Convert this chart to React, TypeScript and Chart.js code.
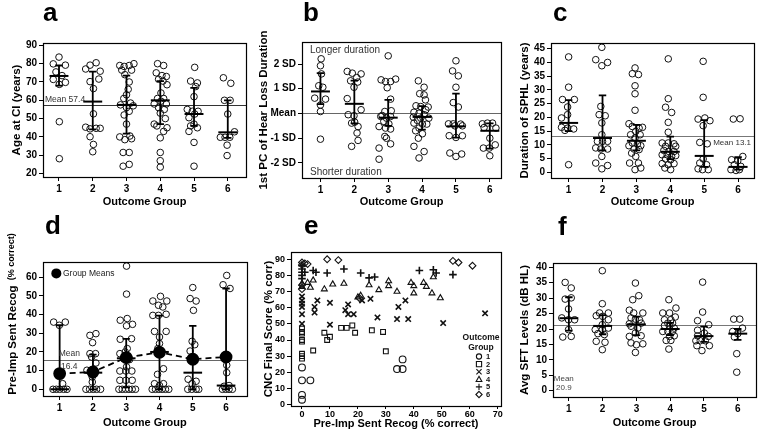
import React, { useEffect, useRef } from "react";
import { Chart, registerables } from "chart.js";
Chart.register(...registerables);

const FONT = "'Liberation Sans', Arial, Helvetica, sans-serif";

// ================= DATA =================
const outcomeGroups = [1, 2, 3, 4, 5, 6];

// (a) Age at CI (years) — [jittered x, value] per outcome group
const ageAtCI = [
  [[1.0, 83.6], [0.83, 79.9], [1.19, 79.2], [0.91, 75.5], [1.09, 73.5], [0.83, 71.4], [1.19, 69.8], [1.01, 68.7], [1.01, 48.3], [1.01, 28.1]],
  [[1.79, 77.1], [1.92, 79.2], [2.1, 80.5], [2.22, 75.9], [1.92, 70.2], [2.18, 71.6], [2.02, 66.4], [2.02, 52.6], [1.79, 45.3], [1.92, 44.4], [2.1, 44.7], [2.22, 44.7], [1.92, 40.1], [2.02, 35.9], [2.0, 31.9]],
  [[2.8, 79], [2.93, 78.5], [3.08, 79], [3.22, 80], [2.86, 76.5], [3.15, 76.5], [2.95, 74], [3.08, 70], [3.05, 66], [3.0, 63], [2.92, 61], [3.12, 58.5], [2.82, 57.5], [3.2, 57], [3.0, 56], [3.08, 54], [2.93, 52], [3.0, 47], [2.8, 40], [3.1, 40.5], [2.95, 38.5], [3.15, 39], [2.9, 31.5], [3.08, 31.5], [2.9, 24], [3.08, 25]],
  [[3.92, 80], [4.1, 79], [3.88, 75], [4.05, 73.5], [4.18, 73], [3.95, 71.5], [4.08, 70.5], [4.2, 68.5], [4.02, 64], [3.92, 61], [4.1, 61], [4.02, 59.5], [3.82, 58], [4.18, 58], [3.95, 56], [4.12, 55], [4.0, 53], [4.15, 50], [3.9, 46], [3.82, 47], [4.2, 45], [4.1, 43], [4.0, 39.5], [4.0, 31.5], [4.0, 27], [4.0, 23.5]],
  [[5.02, 78], [4.9, 70.5], [5.1, 69.5], [5.05, 67.5], [5.0, 62], [4.8, 55], [4.95, 54], [5.12, 54], [5.02, 52.5], [4.85, 50.5], [5.0, 47], [4.9, 46], [5.1, 45], [4.85, 43], [5.0, 37], [5.0, 24]],
  [[5.87, 72.3], [6.09, 69.3], [5.9, 60], [6.07, 60], [6.0, 52.5], [6.2, 42.8], [5.78, 39.8], [5.92, 39.8], [6.06, 39.8], [5.98, 35.5], [5.98, 29.8]],
];
const ageMedians = [73.3, 59.3, 57.5, 60, 52.5, 42.5];
const ageLow = [68, 44.1, 41.8, 47, 46, 39.5];
const ageHigh = [79, 75.7, 73.5, 70.5, 66.8, 60];
const ageOverallMean = 57.4;
const ageTicks = [20, 30, 40, 50, 60, 70, 80, 90];

// (b) 1st PC of hearing loss duration (SD units)
const hearLossPC = [
  [[1.02, 2.21], [1.0, 1.93], [1.03, 1.6], [0.95, 1.12], [1.07, 1.06], [0.83, 0.62], [1.15, 0.58], [1.0, 0.34], [1.0, 0.08], [1.0, -1.04]],
  [[1.79, 1.7], [1.94, 1.63], [2.2, 1.6], [2.07, 1.45], [1.89, 1.32], [2.1, 1.27], [1.99, 1.06], [1.79, 0.6], [2.2, 0.15], [1.82, -0.05], [1.99, -0.09], [2.01, -0.35], [1.92, -0.39], [2.11, -0.53], [2.08, -0.79], [2.11, -1.09], [1.92, -1.33]],
  [[3.0, 2.33], [2.79, 1.36], [2.92, 1.29], [3.07, 1.29], [3.22, 1.39], [2.97, 1.04], [3.07, 0.58], [2.9, 0.08], [3.09, 0.11], [2.82, -0.08], [2.78, -0.12], [2.95, -0.19], [3.07, -0.12], [2.87, -0.32], [3.02, -0.42], [2.73, -0.53], [2.92, -0.59], [3.07, -0.63], [2.9, -0.93], [2.95, -1.0], [3.07, -1.23], [2.73, -1.4], [2.73, -1.85]],
  [[3.89, 1.32], [4.06, 1.06], [3.93, 0.8], [4.06, 0.75], [4.1, 0.55], [3.82, 0.31], [3.96, 0.28], [4.18, 0.26], [4.11, 0.15], [3.76, 0.05], [3.91, 0.01], [4.06, -0.05], [3.74, -0.15], [3.96, -0.19], [4.2, -0.19], [3.86, -0.28], [3.76, -0.39], [4.01, -0.43], [4.14, -0.43], [3.91, -0.59], [3.81, -0.7], [4.01, -0.82], [3.89, -1.0], [3.76, -1.33], [4.06, -1.54], [3.91, -1.8]],
  [[5.0, 2.13], [4.9, 1.72], [5.07, 1.52], [5.0, 1.06], [4.92, 0.44], [5.07, 0.26], [4.78, -0.42], [4.92, -0.42], [5.14, -0.43], [4.97, -0.5], [5.19, -0.5], [4.8, -0.9], [5.0, -0.97], [5.19, -0.9], [4.82, -1.6], [5.0, -1.74], [5.17, -1.64]],
  [[5.78, -0.42], [5.93, -0.39], [6.08, -0.39], [5.83, -0.57], [6.18, -0.59], [6.0, -1.0], [6.16, -1.27], [5.81, -1.4], [5.98, -1.4], [6.0, -1.71]],
];
const pcMedians = [0.89, 0.39, -0.17, -0.14, -0.52, -0.7];
const pcLow = [0.38, -0.4, -0.5, -0.65, -0.98, -1.42];
const pcHigh = [1.63, 1.33, 0.55, 0.3, 0.8, -0.4];
const pcOverallMean = 0;
const pcTicks = [-2, -1, 0, 1, 2];
const pcTickLabels = ["-2 SD", "-1 SD", "Mean", "1 SD", "2 SD"];

// (c) Duration of SPHL (years)
const sphlDuration = [
  [[1.0, 42], [1.0, 31], [0.82, 26.5], [1.17, 26.5], [0.97, 23.8], [0.79, 19.8], [0.97, 21], [0.79, 16.4], [0.97, 16.1], [1.15, 15.8], [0.89, 15.3], [1.0, 2.8]],
  [[1.98, 45.5], [1.8, 41], [2.15, 40], [1.98, 38.8], [1.95, 24], [1.9, 21], [2.08, 20.6], [1.98, 18], [1.98, 13.7], [1.85, 11.3], [2.0, 11.3], [2.15, 11.3], [1.8, 8.9], [1.95, 8.5], [2.15, 8.5], [1.98, 5.8], [1.8, 3.4], [2.15, 2.5], [1.98, 1.3]],
  [[2.96, 38], [2.88, 35.9], [3.06, 35.6], [2.96, 31.5], [2.96, 28.6], [2.96, 22.6], [2.78, 17.7], [2.88, 16.7], [3.08, 16.1], [3.18, 16.4], [2.98, 14.9], [2.83, 13.7], [3.11, 13.7], [2.96, 12.5], [2.88, 10.7], [3.03, 10.3], [2.78, 9.7], [3.13, 9.7], [2.93, 8.5], [3.08, 8.3], [2.86, 7], [2.98, 5.8], [2.8, 3.4], [3.06, 3.4], [2.96, 1], [3.13, 1.6]],
  [[3.94, 41.3], [3.94, 26.8], [3.86, 23.7], [4.04, 21.8], [3.94, 18.2], [3.94, 14.6], [3.76, 10.7], [3.94, 10.7], [4.11, 10.4], [3.86, 9.5], [4.16, 9.5], [3.81, 8], [3.96, 7.6], [4.11, 7.6], [3.76, 6.4], [3.91, 6.4], [4.04, 5.8], [4.16, 6.1], [3.86, 4.9], [4.01, 4.6], [3.76, 3.2], [3.94, 2.8], [4.11, 3.2], [3.84, 1.6], [4.01, 1]],
  [[4.97, 40.4], [4.97, 27.3], [4.82, 19.4], [5.02, 19.8], [5.17, 18.8], [4.97, 17], [4.87, 10.9], [5.09, 10.4], [4.97, 4.9], [4.87, 3.4], [5.07, 2.8], [4.82, 1.3], [4.95, 1], [5.12, 1]],
  [[5.86, 19.4], [6.06, 19.5], [6.14, 5.8], [5.81, 4.6], [5.99, 4.2], [5.89, 2.8], [6.08, 2.2], [5.79, 1], [5.94, 0.7], [6.04, 1]],
];
const sphlMedians = [18, 12.5, 11.5, 7.5, 6, 2];
const sphlLow = [15, 8, 8, 4.8, 2, 1];
const sphlHigh = [26.3, 28, 17.3, 13, 19, 5.5];
const sphlOverallMean = 13.1;
const sphlTicks = [0, 5, 10, 15, 20, 25, 30, 35, 40, 45];

// (d) Pre-implant sentence recognition (% correct)
const preImpRecog = [
  [[0.82, 36], [1.17, 36], [0.99, 34.3], [1.09, 3], [0.8, 0], [0.9, 0], [1.0, 0], [1.12, 0], [1.22, 0]],
  [[1.91, 28.9], [2.09, 29.8], [1.99, 25], [1.91, 19.1], [2.08, 19.1], [1.96, 17.3], [2.09, 14.1], [1.82, 10.2], [2.01, 10.2], [1.98, 6.6], [1.98, 3.9], [1.79, 0], [1.9, 0], [2.01, 0], [2.11, 0], [2.23, 0]],
  [[3.01, 66], [3.01, 51], [2.82, 37], [3.03, 37.9], [3.01, 34], [3.19, 34.8], [2.82, 26.8], [3.16, 27.1], [3.03, 21.8], [2.81, 19.1], [2.97, 20], [2.92, 16.4], [3.1, 15.9], [3.01, 12], [2.81, 9.8], [2.99, 9.8], [3.17, 9.8], [2.81, 4.8], [2.99, 4.8], [3.18, 4.8], [2.78, 0], [2.88, 0], [2.98, 0], [3.08, 0], [3.18, 0], [3.28, 0]],
  [[3.8, 47.3], [4.03, 49.8], [4.22, 47.3], [3.97, 45], [4.1, 44.1], [3.8, 39.6], [3.97, 39.6], [4.2, 40.2], [3.85, 31], [4.2, 31], [4.0, 28], [4.0, 24.5], [3.95, 21.8], [4.12, 11], [3.94, 8], [3.85, 3], [4.12, 3], [4.0, 2], [3.78, 0], [3.88, 0], [3.98, 0], [4.08, 0], [4.18, 0], [4.28, 0]],
  [[5.0, 54.5], [4.92, 48.6], [5.1, 47.3], [5.02, 42.3], [4.98, 25.7], [5.06, 23.9], [4.92, 20.5], [4.86, 5.4], [5.1, 4.3], [4.98, 3], [4.85, 0], [4.97, 0], [5.1, 0], [5.18, 0]],
  [[6.02, 61], [5.91, 56], [6.12, 54], [6.02, 12.9], [6.02, 8.9], [6.09, 2], [5.94, 1.6], [5.89, 0], [5.99, 0], [6.09, 0], [6.19, 0]],
];
const recogMedians = [0, 8.9, 16.6, 20, 8.9, 2];
const recogLow = [0, 0, 1, 0, 0, 0];
const recogHigh = [34.3, 18.6, 27, 39.5, 34, 54];
const recogGroupMeans = [8.4, 9.3, 17, 19.8, 16.1, 17.3];
const recogOverallMean = 15.5;
const recogTicks = [0, 10, 20, 30, 40, 50, 60];

// (e) CNC final score vs pre-implant sentence recognition — [x, y] per outcome group
const cncGroup1 = [[0, 3], [0, 6], [0, 15], [3, 15], [0, 23], [34, 22], [36, 22], [36, 28]];
const cncGroup2 = [[0, 47], [0, 45], [0, 44], [0, 40], [0, 39], [0, 31.5], [0, 30], [0, 28.5], [4, 33.5], [8, 44.5], [9, 40], [10, 42], [14, 47.5], [16, 47.5], [18, 49], [19, 44.5], [25, 46], [29, 45], [30, 33]];
const cncGroup3 = [[0, 67], [0, 64.5], [0, 62.5], [0, 60.5], [0, 56], [0, 50], [5.5, 64.5], [4.5, 60.5], [4.5, 57], [10, 63], [10, 49.5], [16.5, 62], [15.5, 58.5], [16.5, 56], [18.5, 56], [21.5, 64.5], [24.5, 65.5], [27, 54], [34, 53], [34.5, 60.5], [37, 64.5], [38, 53], [50.5, 50.5], [65.5, 56.5]];
const cncGroup4 = [[0, 75], [0, 73], [2, 75.5], [3, 72.5], [4, 77], [8, 71.5], [11, 74.5], [15, 75], [20, 66.5], [21, 67.5], [24, 74], [27.5, 71], [31, 76.5], [31, 73.5], [34, 70], [39, 75.5], [40, 73.5], [40, 69], [43.5, 75.5], [44.5, 73], [46.5, 69], [47, 79], [49.5, 66]];
const cncGroup5 = [[0, 86], [0, 84], [0, 82], [0, 80], [0, 78], [1, 82], [4, 83], [5, 82], [9, 81.5], [15, 84], [21, 81.5], [24, 78.5], [26, 79], [42, 83], [47, 83.5], [48, 81.5], [54, 80.5]];
const cncGroup6 = [[0, 88], [0, 86.5], [1, 87.5], [2, 87], [9, 90], [13, 89.5], [54, 89], [56, 88], [61, 86], [20.5, 66], [0, 74], [0, 71.5]];
const cncGroupLabels = ["1", "2", "3", "4", "5", "6"];
const cncMarkers = ["circle", "rect", "crossRot", "triangle", "cross", "rectRot"];
const cncXTicks = [0, 10, 20, 30, 40, 50, 60, 70];
const cncYTicks = [0, 10, 20, 30, 40, 50, 60, 70, 80, 90];

// (f) Average SFT levels (dB HL)
const sftLevels = [
  [[0.89, 35.1], [1.07, 33.3], [0.89, 29.7], [1.07, 30.1], [0.99, 26.5], [0.79, 23.6], [0.99, 23], [1.17, 23], [0.99, 19.8], [0.82, 17.4], [1.07, 17.6]],
  [[1.99, 38.9], [1.99, 28.2], [1.81, 24.3], [1.91, 25.2], [2.17, 25.2], [2.0, 24.1], [2.17, 23], [1.99, 21.4], [1.78, 19.8], [1.99, 19.8], [2.17, 20.3], [1.86, 18.5], [2.05, 18.2], [1.81, 16], [2.07, 15.7], [1.99, 13.3]],
  [[2.97, 34.9], [3.07, 30.8], [2.89, 29.5], [2.79, 26.1], [2.92, 25.2], [3.19, 25.2], [2.84, 23.6], [2.97, 23.2], [3.09, 23], [2.79, 21.7], [3.14, 21.9], [2.84, 20.9], [3.04, 20.3], [2.97, 18.7], [2.79, 17.6], [3.14, 17.8], [2.84, 15.5], [3.0, 14.9], [3.19, 15.2], [2.97, 12.4]],
  [[3.96, 29.5], [4.17, 26.8], [3.78, 25.2], [3.98, 25.2], [3.83, 23], [4.02, 23], [4.15, 23.9], [3.93, 21.9], [4.07, 21.9], [3.83, 21.1], [3.98, 20.9], [4.12, 20.3], [3.78, 19.2], [3.93, 19.2], [4.07, 19.2], [3.98, 17.6], [4.12, 17.8], [3.88, 16.3], [4.02, 16.3], [3.96, 13.5]],
  [[4.96, 35.2], [4.96, 25.5], [4.81, 22.7], [5.14, 21.4], [4.81, 19.6], [5.01, 18.7], [5.13, 17.6], [4.81, 17.8], [4.76, 16.2], [4.89, 16.2], [5.04, 16.2], [5.16, 14.6], [4.79, 14.6], [4.94, 13]],
  [[5.88, 23.2], [6.06, 23.2], [6.14, 20.3], [5.85, 19.2], [6.0, 18.5], [5.9, 17.4], [5.97, 12], [5.97, 6]],
];
const sftMedians = [23.5, 21, 21.5, 20, 17.7, 18.5];
const sftLow = [19.5, 18.3, 18, 18, 15.8, 16.5];
const sftHigh = [30.3, 24.5, 24, 22, 20.8, 20];
const sftOverallMean = 21.4;
const sftTicks = [0, 5, 10, 15, 20, 25, 30, 35, 40];

// ================= HELPERS =================
const BLACK = "#000";

function drawText(ctx: any, text: string, x: number, y: number, opts: any) {
  ctx.save();
  ctx.font = `${opts.bold ? "bold " : ""}${opts.size || 9}px ${FONT}`;
  ctx.fillStyle = opts.color || "#333";
  ctx.textAlign = opts.align || "left";
  ctx.textBaseline = opts.baseline || "middle";
  ctx.fillText(text, x, y);
  ctx.restore();
}

function overlayPlugin(p: any) {
  return {
    id: "overlay" + p.letter,
    beforeDatasetsDraw(chart: any) {
      if (p.mean === undefined) return;
      const { ctx, chartArea: a, scales } = chart;
      const yy = Math.round(scales.y.getPixelForValue(p.mean)) + 0.5;
      ctx.save();
      ctx.strokeStyle = p.meanColor || "#555";
      ctx.lineWidth = 1;
      ctx.beginPath();
      ctx.moveTo(a.left, yy);
      ctx.lineTo(a.right, yy);
      ctx.stroke();
      ctx.restore();
    },
    afterDatasetsDraw(chart: any) {
      const { ctx, chartArea: a, scales } = chart;
      const xs = scales.x, ys = scales.y;
      if (p.medians) {
        const unit = xs.getPixelForValue(2) - xs.getPixelForValue(1);
        const capW = unit * 0.11, medW = unit * 0.28;
        ctx.save();
        ctx.strokeStyle = BLACK;
        ctx.lineCap = "butt";
        outcomeGroups.forEach((g, i) => {
          const cx = xs.getPixelForValue(g);
          const yl = ys.getPixelForValue(p.low[i]);
          const yh = ys.getPixelForValue(p.high[i]);
          const ym = ys.getPixelForValue(p.medians[i]);
          ctx.lineWidth = 1.8;
          ctx.beginPath();
          ctx.moveTo(cx, yl); ctx.lineTo(cx, yh);
          ctx.moveTo(cx - capW, yl); ctx.lineTo(cx + capW, yl);
          ctx.moveTo(cx - capW, yh); ctx.lineTo(cx + capW, yh);
          ctx.stroke();
          ctx.lineWidth = 2;
          ctx.beginPath();
          ctx.moveTo(cx - medW, ym); ctx.lineTo(cx + medW, ym);
          ctx.stroke();
        });
        ctx.restore();
      }
      (p.notes || []).forEach((n: any) => {
        const px = xs.getPixelForValue(n.x) + (n.dx || 0);
        const py = ys.getPixelForValue(n.y) + (n.dy || 0);
        drawText(ctx, n.text, px, py, n);
      });
      if (p.extraDraw) p.extraDraw(chart);
      ctx.save();
      ctx.strokeStyle = BLACK;
      ctx.lineWidth = 1.2;
      ctx.strokeRect(Math.round(a.left) + 0.5, Math.round(a.top) + 0.5, Math.round(a.right - a.left), Math.round(a.bottom - a.top));
      ctx.restore();
    },
    afterDraw(chart: any) {
      const { ctx } = chart;
      drawText(ctx, p.letter, p.letterPos[0], p.letterPos[1], { size: 26, bold: true, color: BLACK, baseline: "alphabetic" });
      if (p.customYTitle) p.customYTitle(chart);
    },
  };
}

function buildScales(p: any) {
  const tickFont = { family: FONT, size: p.tickSize || 10, weight: "bold" };
  const xTitleFont = { family: FONT, size: p.xTitleSize || 11, weight: "bold" };
  const yTitleFont = { family: FONT, size: 11.5, weight: "bold" };
  const grid = (len: number) => ({ drawOnChartArea: false, drawTicks: true, tickLength: len, color: BLACK, lineWidth: 1 });
  const border = { display: true, color: BLACK, width: 1 };
  return {
    x: {
      type: "linear",
      min: p.xRange[0],
      max: p.xRange[1],
      grid: grid(p.xTickLen || 4),
      border,
      afterBuildTicks: (s: any) => { s.ticks = p.xTicks.map((v: number) => ({ value: v })); },
      afterFit: (s: any) => { s.height = p.xh; },
      ticks: { font: tickFont, color: BLACK, padding: p.xTickPad ?? 2, maxRotation: 0, autoSkip: false, callback: (v: any) => String(v) },
      title: { display: true, text: p.xTitle, font: xTitleFont, color: BLACK, padding: { top: 0, bottom: p.xTitlePad } },
    },
    y: {
      type: "linear",
      min: p.yRange[0],
      max: p.yRange[1],
      grid: grid(4),
      border,
      afterBuildTicks: (s: any) => { s.ticks = p.yTicks.map((v: number) => ({ value: v })); },
      afterFit: (s: any) => { s.width = p.yw; },
      ticks: {
        font: tickFont, color: BLACK, padding: 2, autoSkip: false,
        callback: (v: any) => (p.yTickLabels ? p.yTickLabels[p.yTicks.indexOf(v)] : String(v)),
      },
      title: { display: !p.customYTitle, text: p.yTitle, font: yTitleFont, color: BLACK, padding: { top: p.yTitlePad, bottom: 0 } },
    },
  };
}

function baseOptions(p: any) {
  return {
    animation: false,
    responsive: false,
    devicePixelRatio: 1,
    layout: { padding: { top: p.pad[0], right: p.pad[1], bottom: p.pad[2], left: 0 } },
    plugins: { legend: { display: false }, tooltip: { enabled: false } },
    scales: buildScales(p),
  };
}

function makeGroupChart(canvas: HTMLCanvasElement, p: any) {
  const pts = p.points.flatMap((g: number[][]) => g.map(([x, y]) => ({ x, y })));
  const datasets: any[] = [];
  if (p.groupMeans) {
    datasets.push({
      data: p.groupMeans.map((m: number, i: number) => ({ x: outcomeGroups[i], y: m })),
      showLine: true,
      borderColor: BLACK,
      borderWidth: 1.8,
      borderDash: [6, 4],
      pointRadius: 5.5,
      pointBackgroundColor: BLACK,
      pointBorderColor: BLACK,
    });
  }
  datasets.push({
    data: pts,
    showLine: false,
    pointStyle: "circle",
    pointRadius: 3.3,
    pointBorderWidth: 1,
    pointBorderColor: "#111",
    pointBackgroundColor: "rgba(255,255,255,0)",
  });
  return new Chart(canvas, {
    type: "scatter",
    data: { datasets },
    options: baseOptions(p),
    plugins: [overlayPlugin(p)],
  } as any);
}

function drawMarker(ctx: any, style: string, x: number, y: number, r: number) {
  ctx.beginPath();
  switch (style) {
    case "circle":
      ctx.arc(x, y, r, 0, Math.PI * 2);
      break;
    case "rect":
      ctx.rect(x - r, y - r, 2 * r, 2 * r);
      break;
    case "crossRot":
      ctx.moveTo(x - r, y - r); ctx.lineTo(x + r, y + r);
      ctx.moveTo(x + r, y - r); ctx.lineTo(x - r, y + r);
      break;
    case "triangle":
      ctx.moveTo(x, y - r * 1.15); ctx.lineTo(x + r * 1.1, y + r * 0.85); ctx.lineTo(x - r * 1.1, y + r * 0.85); ctx.closePath();
      break;
    case "cross":
      ctx.moveTo(x - r * 1.2, y); ctx.lineTo(x + r * 1.2, y);
      ctx.moveTo(x, y - r * 1.2); ctx.lineTo(x, y + r * 1.2);
      break;
    case "rectRot":
      ctx.moveTo(x, y - r * 1.2); ctx.lineTo(x + r * 1.2, y); ctx.lineTo(x, y + r * 1.2); ctx.lineTo(x - r * 1.2, y); ctx.closePath();
      break;
  }
  ctx.stroke();
}

function makeCncChart(canvas: HTMLCanvasElement, p: any) {
  const groups = [cncGroup1, cncGroup2, cncGroup3, cncGroup4, cncGroup5, cncGroup6];
  const datasets = groups.map((g, i) => ({
    data: g.map(([x, y]) => ({ x, y })),
    showLine: false,
    pointStyle: cncMarkers[i],
    pointRadius: i === 2 || i === 4 ? 3.8 : 3.4,
    pointBorderWidth: i === 2 || i === 4 ? 1.6 : 1.1,
    pointBorderColor: "#111",
    pointBackgroundColor: "rgba(255,255,255,0)",
  }));
  const legendDraw = (chart: any) => {
    const { ctx } = chart;
    const cx = p.legendPos[0], top = p.legendPos[1];
    drawText(ctx, "Outcome", cx, top, { size: 8.5, bold: true, color: "#111", align: "center" });
    drawText(ctx, "Group", cx, top + 10, { size: 8.5, bold: true, color: "#111", align: "center" });
    cncGroupLabels.forEach((lab, i) => {
      const yy = top + 18.5 + i * 7.6;
      ctx.save();
      ctx.strokeStyle = "#111";
      ctx.lineWidth = 1.1;
      drawMarker(ctx, cncMarkers[i], cx - 2, yy, 2.6);
      ctx.restore();
      drawText(ctx, lab, cx + 5, yy + 0.5, { size: 7.5, bold: true, color: "#111" });
    });
  };
  return new Chart(canvas, {
    type: "scatter",
    data: { datasets },
    options: baseOptions(p),
    plugins: [overlayPlugin({ ...p, extraDraw: legendDraw })],
  } as any);
}

// ================= PANEL SPECS (layout/style) =================
const panelA = {
  box: [0, 0, 254, 210], pad: [43, 8, 0], yw: 43, xh: 33,
  letter: "a", letterPos: [43, 21],
  points: ageAtCI, medians: ageMedians, low: ageLow, high: ageHigh, mean: ageOverallMean, meanColor: "#333",
  xRange: [0.526, 6.54], yRange: [18.1, 91.3], xTicks: outcomeGroups, yTicks: ageTicks,
  xTitle: "Outcome Group", xTitlePad: 1, yTitle: "Age at CI (years)", yTitlePad: 10,
  notes: [{ text: "Mean 57.4", x: 0.526, dx: 2, y: ageOverallMean, dy: -1.5, baseline: "bottom", size: 8.5, color: "#333" }],
};
const panelB = {
  box: [254, 0, 254, 210], pad: [42, 7, 0], yw: 48, xh: 32,
  letter: "b", letterPos: [49, 21],
  points: hearLossPC, medians: pcMedians, low: pcLow, high: pcHigh, mean: pcOverallMean, meanColor: "#666",
  xRange: [0.455, 6.33], yRange: [-2.61, 2.89], xTicks: outcomeGroups, yTicks: pcTicks, yTickLabels: pcTickLabels,
  xTitle: "Outcome Group", xTitlePad: 1, yTitle: "1st PC of Hear Loss Duration", yTitlePad: 3,
  notes: [
    { text: "Longer duration", x: 0.455, dx: 8, y: 2.89, dy: 8, size: 10, color: "#333" },
    { text: "Shorter duration", x: 0.455, dx: 8, y: -2.61, dy: -6, size: 10, color: "#333" },
  ],
};
const panelC = {
  box: [508, 0, 254, 210], pad: [43, 8, 0], yw: 43, xh: 32,
  letter: "c", letterPos: [45, 21],
  points: sphlDuration, medians: sphlMedians, low: sphlLow, high: sphlHigh, mean: sphlOverallMean, meanColor: "#777",
  xRange: [0.48, 6.47], yRange: [-2.04, 47.07], xTicks: outcomeGroups, yTicks: sphlTicks,
  xTitle: "Outcome Group", xTitlePad: 1, yTitle: "Duration of SPHL (years)", yTitlePad: 10,
  notes: [{ text: "Mean 13.1", x: 6.47, dx: -3, y: sphlOverallMean, dy: 2, baseline: "top", align: "right", size: 8, color: "#333" }],
};
const panelD = {
  box: [0, 210, 254, 228], pad: [52, 6, 0], yw: 43, xh: 42,
  letter: "d", letterPos: [45, 24],
  points: preImpRecog, medians: recogMedians, low: recogLow, high: recogHigh, mean: recogOverallMean, meanColor: "#666",
  groupMeans: recogGroupMeans,
  xRange: [0.5, 6.62], yRange: [-3.6, 68.2], xTicks: outcomeGroups, yTicks: recogTicks,
  xTitle: "Outcome Group", xTitlePad: 8, yTitle: "Pre-Imp Sent Recog  (% correct)", yTitlePad: 3,
  notes: [
    { text: "Mean", x: 1.29, y: recogOverallMean, dy: -2, baseline: "bottom", align: "center", size: 8.5, color: "#333" },
    { text: "16.4", x: 1.29, y: recogOverallMean, dy: 2, baseline: "top", align: "center", size: 8.5, color: "#333" },
    { text: "Group Means", x: 1.1, y: 62.1, size: 8.5, color: "#222" },
  ],
  extraDraw: (chart: any) => {
    const { ctx, scales } = chart;
    ctx.save();
    ctx.fillStyle = BLACK;
    ctx.beginPath();
    ctx.arc(scales.x.getPixelForValue(0.9), scales.y.getPixelForValue(62.1), 5, 0, Math.PI * 2);
    ctx.fill();
    ctx.restore();
  },
  customYTitle: (chart: any) => {
    const { ctx } = chart;
    ctx.save();
    ctx.translate(13, 104);
    ctx.rotate(-Math.PI / 2);
    ctx.fillStyle = BLACK;
    ctx.textBaseline = "middle";
    const f1 = `bold 11.5px ${FONT}`, f2 = `bold 9px ${FONT}`;
    const t1 = "Pre-Imp Sent Recog", t2 = "  (% correct)";
    ctx.font = f1; const w1 = ctx.measureText(t1).width;
    ctx.font = f2; const w2 = ctx.measureText(t2).width;
    const start = -(w1 + w2) / 2;
    ctx.font = f1; ctx.textAlign = "left"; ctx.fillText(t1, start, 0);
    ctx.font = f2; ctx.fillText(t2, start + w1, -1);
    ctx.restore();
  },
};
const panelE = {
  box: [254, 210, 254, 228], pad: [42, 7, 0], yw: 37, xh: 32,
  letter: "e", letterPos: [50, 24],
  tickSize: 9, xTickPad: 0, xTickLen: 3, xTitleSize: 11,
  xRange: [-3.93, 71.2], yRange: [-0.87, 94.5], xTicks: cncXTicks, yTicks: cncYTicks,
  xTitle: "Pre-Imp Sent Recog (% correct)", xTitlePad: 7.5, yTitle: "CNC Final Score (% corr)", yTitlePad: 8,
  legendPos: [227, 128],
  notes: [],
};
const panelF = {
  box: [508, 210, 254, 228], pad: [53, 6, 0], yw: 45, xh: 41,
  letter: "f", letterPos: [50, 25],
  points: sftLevels, medians: sftMedians, low: sftLow, high: sftHigh, mean: sftOverallMean, meanColor: "#777",
  xRange: [0.53, 6.54], yRange: [-2.04, 41.4], xTicks: outcomeGroups, yTicks: sftTicks,
  xTitle: "Outcome Group", xTitlePad: 8, yTitle: "Avg SFT Levels (dB HL)", yTitlePad: 10,
  notes: [
    { text: "Mean", x: 0.85, y: 3.9, align: "center", size: 8, color: "#444" },
    { text: "20.9", x: 0.85, y: 1.0, align: "center", size: 8, color: "#444" },
  ],
};

function Panel({ spec, kind }: { spec: any; kind: "group" | "cnc" }) {
  const ref = useRef<HTMLCanvasElement | null>(null);
  useEffect(() => {
    if (!ref.current) return;
    const chart = kind === "cnc" ? makeCncChart(ref.current, spec) : makeGroupChart(ref.current, spec);
    return () => chart.destroy();
  }, []);
  const [l, t, w, h] = spec.box;
  return (
    <canvas
      ref={ref}
      width={w}
      height={h}
      style={{ position: "absolute", left: l, top: t, width: w, height: h }}
    />
  );
}

export default function App() {
  return (
    <div style={{ position: "absolute", left: 0, top: 0, width: 762, height: 438, background: "#fff", overflow: "hidden" }}>
      <Panel spec={panelA} kind="group" />
      <Panel spec={panelB} kind="group" />
      <Panel spec={panelC} kind="group" />
      <Panel spec={panelD} kind="group" />
      <Panel spec={panelE} kind="cnc" />
      <Panel spec={panelF} kind="group" />
    </div>
  );
}
